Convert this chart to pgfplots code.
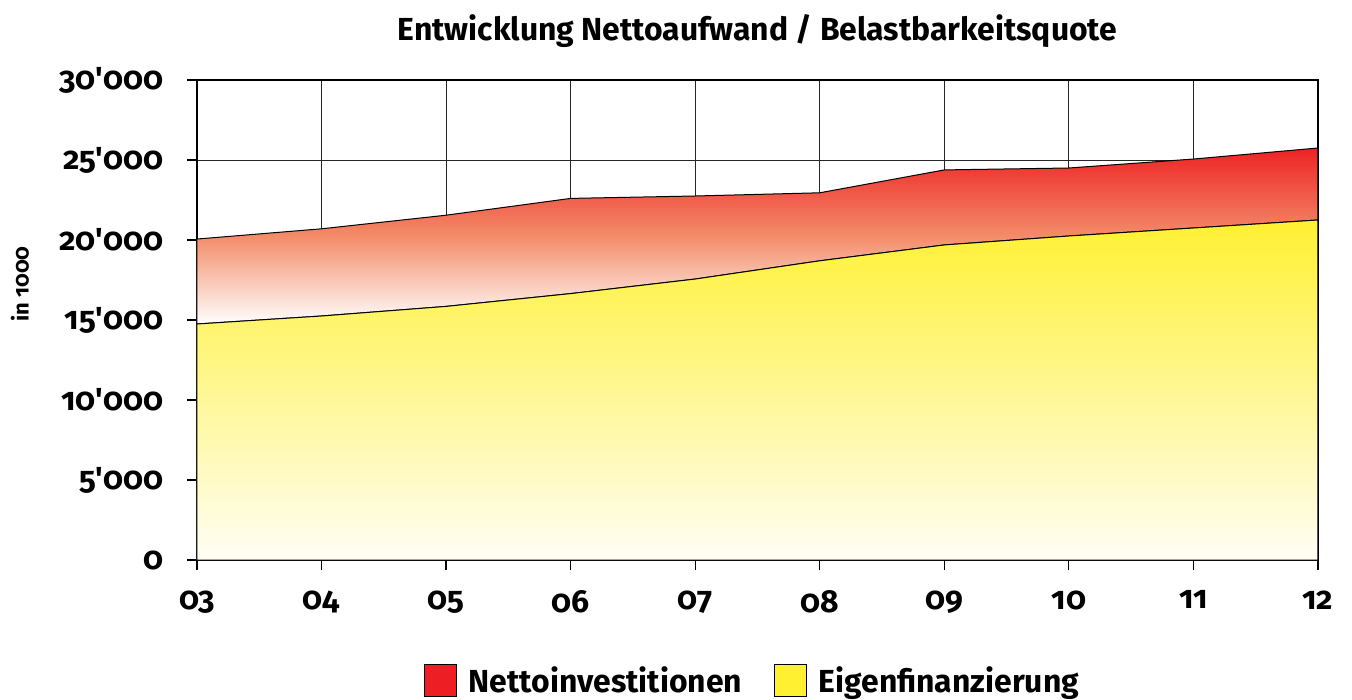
\documentclass[border=0pt]{standalone}
\usepackage{fontspec}
\setmainfont{Fira Sans}[Numbers=OldStyle]
\usepackage{pgfplots}
\pgfplotsset{compat=1.18}
\definecolor{myred}{RGB}{237,30,36}
\definecolor{myyellow}{RGB}{255,240,50}
\begin{document}
\begin{tikzpicture}
\path[use as bounding box] (-197bp,-140bp) rectangle (1155bp,560bp);
\begin{axis}[
  scale only axis, width=1121bp, height=480bp,
  xmin=0, xmax=9, ymin=0, ymax=30000,
  xtick={0,...,9},
  xticklabels={03,04,05,06,07,08,09,10,11,12},
  ytick={0,5000,...,30000},
  scaled y ticks=false,
  /pgf/number format/.cd, fixed, 1000 sep={\textquotesingle}, assume math mode=true,
  /pgfplots/.cd,
  tick pos=left,
  tick align=outside,
  major tick length=10bp,
  tick style={black, line width=1.2bp},
  axis line style={black, line width=1.4bp},
  grid=major,
  major grid style={black!85, line width=0.8bp},
  ticklabel style={font=\fontsize{32}{36}\selectfont\bfseries},
  yticklabel style={xshift=-20bp},
  xticklabel style={yshift=-17bp},
  ylabel={in 1000},
  ylabel style={font=\fontsize{22}{26}\selectfont\bfseries, at={(axis description cs:-0.158,0.575)}, anchor=center},
  title={Entwicklung Nettoaufwand / Belastbarkeitsquote},
  title style={font=\fontsize{32}{38}\selectfont\bfseries, at={(axis description cs:0.5,1)}, anchor=base, yshift=34bp},
  legend columns=2,
  legend style={draw=none, at={(axis description cs:0.5,0)}, anchor=center, yshift=-120bp,
    font=\fontsize{32}{38}\selectfont\bfseries,
    /tikz/every even column/.append style={column sep=20bp},
    /tikz/every odd column/.append style={column sep=0bp},
    nodes={inner xsep=12bp}},
  legend cell align=left,
]
% Nettoinvestitionen (region between the two curves)
\addplot[draw=black, line width=1bp, shading=axis, top color={rgb,255:red,237;green,35;blue,36}, bottom color=white, middle color={rgb,255:red,243;green,140;blue,105}, forget plot]
 coordinates {(0,20060) (1,20700) (2,21550) (3,22600) (4,22750) (5,22950) (6,24380) (7,24500) (8,25060) (9,25750)
 (9,21250) (8,20750) (7,20250) (6,19690) (5,18700) (4,17560) (3,16650) (2,15850) (1,15250) (0,14750)} -- cycle;
% Eigenfinanzierung
\addplot[draw=black, line width=1bp, shading=axis, top color=myyellow, bottom color={rgb,255:red,255;green,254;blue,245}, forget plot]
 coordinates {(0,14750) (1,15250) (2,15850) (3,16650) (4,17560) (5,18700) (6,19690) (7,20250) (8,20750) (9,21250)} \closedcycle;
\addlegendimage{legend image code/.code={\draw[fill=myred, draw=black, line width=0.8bp] (0bp,-16bp) rectangle (32bp,16bp);}}
\addlegendentry{Nettoinvestitionen}
\addlegendimage{legend image code/.code={\draw[fill=myyellow, draw=black, line width=0.8bp] (0bp,-16bp) rectangle (32bp,16bp);}}
\addlegendentry{Eigenfinanzierung}
\end{axis}
\end{tikzpicture}
\end{document}
